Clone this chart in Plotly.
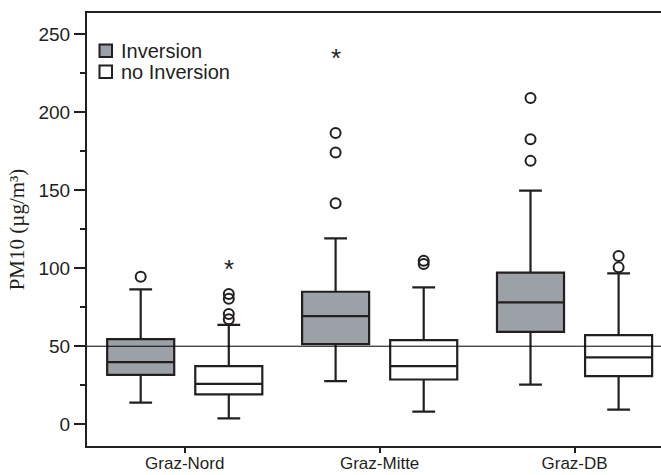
import plotly.graph_objects as go

# ---------------- data ----------------
STATIONS = ["Graz-Nord", "Graz-Mitte", "Graz-DB"]
SERIES = ["Inversion", "no Inversion"]
REF_LEVEL = 50
Y_TICKS = [0, 50, 100, 150, 200, 250]

inv_lower = [13.9, 27.6, 25.4]
inv_q1 = [31.6, 51.3, 59.2]
inv_median = [39.8, 69.3, 78.1]
inv_q3 = [54.5, 84.9, 97.1]
inv_upper = [86.4, 119.1, 149.7]
inv_outliers = [[94.5], [141.6, 174.0, 186.5], [168.7, 182.6, 208.9]]
inv_extremes = [[], [238.8], []]

noinv_lower = [3.8, 8.1, 9.4]
noinv_q1 = [19.2, 28.7, 30.8]
noinv_median = [25.9, 37.2, 42.8]
noinv_q3 = [37.2, 53.9, 57.1]
noinv_upper = [63.7, 87.7, 96.6]
noinv_outliers = [[67.3, 70.6, 80.4, 83.4], [102.6, 104.8], [100.5, 107.8]]
noinv_extremes = [[104.1], [], []]

# ---------------- style ----------------
INK = "#231f20"
GRAY = "#9ba1a6"
OFFSET = 0.226
BOX_W = 0.344

W, H = 661, 475
ML, MR, MT, MB = 87, 0, 13, 29

fig = go.Figure()

groups = [
    (SERIES[0], -OFFSET, GRAY, inv_lower, inv_q1, inv_median, inv_q3, inv_upper, inv_outliers, inv_extremes),
    (SERIES[1], OFFSET, "white", noinv_lower, noinv_q1, noinv_median, noinv_q3, noinv_upper, noinv_outliers, noinv_extremes),
]

for name, off, fill, lo, q1, med, q3, up, outl, ext in groups:
    xs = [i + off for i in range(len(STATIONS))]
    fig.add_trace(go.Box(
        name=name, x=xs, q1=q1, median=med, q3=q3,
        lowerfence=lo, upperfence=up, width=BOX_W,
        fillcolor=fill, line=dict(color=INK, width=2.2),
        whiskerwidth=0.34, boxpoints=False, showlegend=False,
        hoverinfo="skip",
    ))
    ox, oy = [], []
    for i, vals in enumerate(outl):
        for v in vals:
            ox.append(i + off)
            oy.append(v)
    fig.add_trace(go.Scatter(
        x=ox, y=oy, mode="markers", showlegend=False,
        marker=dict(symbol="circle-open", size=10, color=INK, line=dict(width=2, color=INK)),
    ))
    for i, vals in enumerate(ext):
        for v in vals:
            fig.add_annotation(
                x=i + off, y=v, xref="x", yref="y", text="*", showarrow=False,
                xanchor="center", yanchor="middle", yshift=-7,
                font=dict(family="Arial", size=26, color=INK),
            )

# reference line
fig.add_shape(type="line", xref="paper", x0=0, x1=1, yref="y", y0=REF_LEVEL, y1=REF_LEVEL,
              line=dict(color="black", width=1))

# custom legend
pw = W - ML - MR
ph = H - MT - MB
def px(x):
    return (x - ML) / pw
def py(y):
    return (H - MB - y) / ph

legend_rows = [(SERIES[0], GRAY, 50.7), (SERIES[1], "white", 71.7)]
for label, fill, cy in legend_rows:
    fig.add_shape(type="rect", xref="paper", yref="paper",
                  x0=px(99.5), x1=px(112), y0=py(cy - 6.3), y1=py(cy + 6.3),
                  fillcolor=fill, line=dict(color=INK, width=2))
    fig.add_annotation(xref="paper", yref="paper", x=px(119), y=py(cy), text=label,
                       showarrow=False, xanchor="left", yanchor="middle",
                       font=dict(family="Arial", size=20, color=INK))

fig.update_layout(
    width=W, height=H,
    margin=dict(l=ML, r=MR, t=MT, b=MB, autoexpand=False),
    paper_bgcolor="white", plot_bgcolor="white",
    showlegend=False,
    xaxis=dict(
        range=[-0.5015, 2.4435], tickmode="array",
        tickvals=list(range(len(STATIONS))), ticktext=STATIONS,
        showgrid=False, zeroline=False, automargin=False,
        showline=True, mirror=True, linecolor=INK, linewidth=2,
        ticks="outside", ticklen=5, tickwidth=2, tickcolor=INK,
        tickfont=dict(family="Arial", size=17, color=INK),
        ticklabelstandoff=-4,
    ),
    yaxis=dict(
        range=[-13.9, 263.4], tickvals=Y_TICKS,
        showgrid=False, zeroline=False, automargin=False,
        showline=True, mirror=False, linecolor=INK, linewidth=2,
        ticks="outside", ticklen=11, tickwidth=2, tickcolor=INK,
        tickfont=dict(family="Arial", size=19, color=INK),
        minor=dict(dtick=25, tick0=0, ticks="outside", ticklen=5, tickwidth=2, tickcolor=INK, showgrid=False),
        title=dict(text="PM10 (µg/m³)", standoff=8,
                   font=dict(family="Liberation Serif", size=21, color=INK)),
    ),
)

fig.write_html("out.html")
